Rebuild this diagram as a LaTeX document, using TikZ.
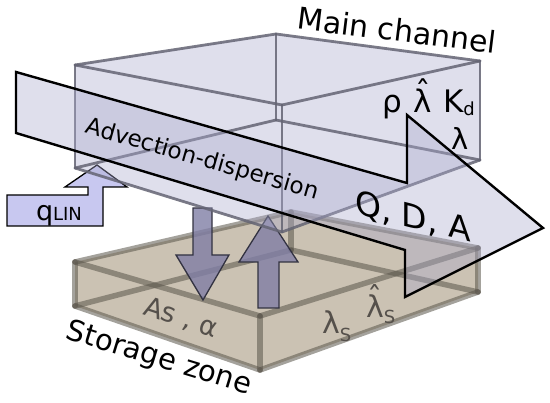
\documentclass[tikz,border=0pt]{standalone}
\usepackage{fontspec}
\setmainfont{DejaVu Sans}
\definecolor{boxfill}{RGB}{170,170,205}
\definecolor{boxedge}{RGB}{100,100,115}
\definecolor{stfill}{RGB}{203,194,179}
\definecolor{stedge}{RGB}{90,85,75}
\definecolor{arrfill}{RGB}{128,126,165}
\definecolor{arredge}{RGB}{50,50,65}
\definecolor{qfill}{RGB}{200,200,240}
\definecolor{sttext}{RGB}{85,80,75}
\newcommand{\lamhat}{\ooalign{λ\cr\hidewidth\raisebox{0.3em}{ˆ}\hidewidth\cr}}
\newcommand{\fs}[1]{\fontsize{#1}{#1}\selectfont}
\tikzset{
  stedgeline/.style={draw=stedge, draw opacity=0.55, line width=5.5pt, line cap=round},
  mbedgeline/.style={draw=boxedge, draw opacity=0.85, line width=2.8pt, line cap=round},
  flowarrow/.style={fill=arrfill, fill opacity=0.8, draw=arredge, line width=1.3pt},
  lbl/.style={inner sep=0pt, outer sep=0pt}
}
\begin{document}
\begin{tikzpicture}[x=1pt,y=-1pt,line join=miter]
\useasboundingbox (0,0) rectangle (550,403);
% storage zone
\coordinate (sLt) at (75,262); \coordinate (sBt) at (291,212);
\coordinate (sRt) at (478,248); \coordinate (sFt) at (260,316);
\coordinate (sLb) at (75,306); \coordinate (sBb) at (291,250);
\coordinate (sRb) at (478,292); \coordinate (sFb) at (260,370);
\fill[stfill] (sLt) -- (sBt) -- (sRt) -- (sRb) -- (sFb) -- (sLb) -- cycle;
\foreach \a/\b in {sLt/sBt,sBt/sRt,sRt/sFt,sFt/sLt,sLb/sBb,sBb/sRb,sRb/sFb,sFb/sLb,sLt/sLb,sBt/sBb,sRt/sRb,sFt/sFb}
  \draw[stedgeline] (\a) -- (\b);
% exchange arrows
\draw[flowarrow] (193,208) -- (212,208) -- (212,255) -- (229,255) -- (203,300) -- (176,255) -- (193,255) -- cycle;
\draw[flowarrow] (258,308) -- (279,308) -- (279,262) -- (298,262) -- (268,216) -- (239,262) -- (258,262) -- cycle;
% lateral inflow
\draw[fill=qfill, line width=1.3pt] (7,226) -- (7,195) -- (88,195) -- (88,187) -- (65,187) -- (97,165) -- (127,187) -- (103,187) -- (103,226) -- cycle;
% main channel
\coordinate (mLt) at (75,65); \coordinate (mBt) at (276,34);
\coordinate (mRt) at (480,61); \coordinate (mFt) at (282,105);
\coordinate (mLb) at (75,168); \coordinate (mBb) at (276,120);
\coordinate (mRb) at (480,160); \coordinate (mFb) at (282,232);
\fill[boxfill, fill opacity=0.38] (mLt) -- (mBt) -- (mRt) -- (mRb) -- (mFb) -- (mLb) -- cycle;
\foreach \a/\b in {mLt/mBt,mBt/mRt,mRt/mFt,mFt/mLt,mLb/mBb,mBb/mRb,mRb/mFb,mFb/mLb,mLt/mLb,mBt/mBb,mRt/mRb,mFt/mFb}
  \draw[mbedgeline] (\a) -- (\b);
% advection band arrow
\draw[fill=boxfill, fill opacity=0.38, line width=2.4pt] (16,72) -- (407,183) -- (407,115) -- (543,228) -- (405,297) -- (405,250) -- (16,133) -- cycle;
% labels
\node[lbl, rotate=-7] (main) at (397,30) {\fs{30}Main channel};
\node[lbl, rotate=-16] (adv) at (202,160) {\fs{23}Advection-dispersion};
\node[lbl, anchor=base west] (par) at (382,113) {\fs{31}ρ\kern12pt\lamhat\kern11pt K\raisebox{-3pt}{\fs{18}d}};
\node[lbl, anchor=base west] (lam) at (451,150) {\fs{29}λ};
\node[lbl, yslant=-0.25] (qda) at (413,218) {\fs{33}Q, D, A};
\node[lbl, anchor=base west] (qlin) at (36,221) {\fs{27}q\fs{18}LIN};
\node[lbl, rotate=-17] (stz) at (159,359) {\fs{29}Storage zone};
\node[lbl, rotate=-18, text=sttext] (asa) at (181,318) {\fs{27}As , α};
\node[lbl, anchor=base west, text=sttext] (ls) at (322,334) {\fs{30}λ\raisebox{-8pt}{\fs{18}S}};
\node[lbl, anchor=base west, text=sttext] (lhs) at (366,318) {\fs{30}\lamhat\raisebox{-6pt}{\fs{18}S}};
\end{tikzpicture}
\end{document}
